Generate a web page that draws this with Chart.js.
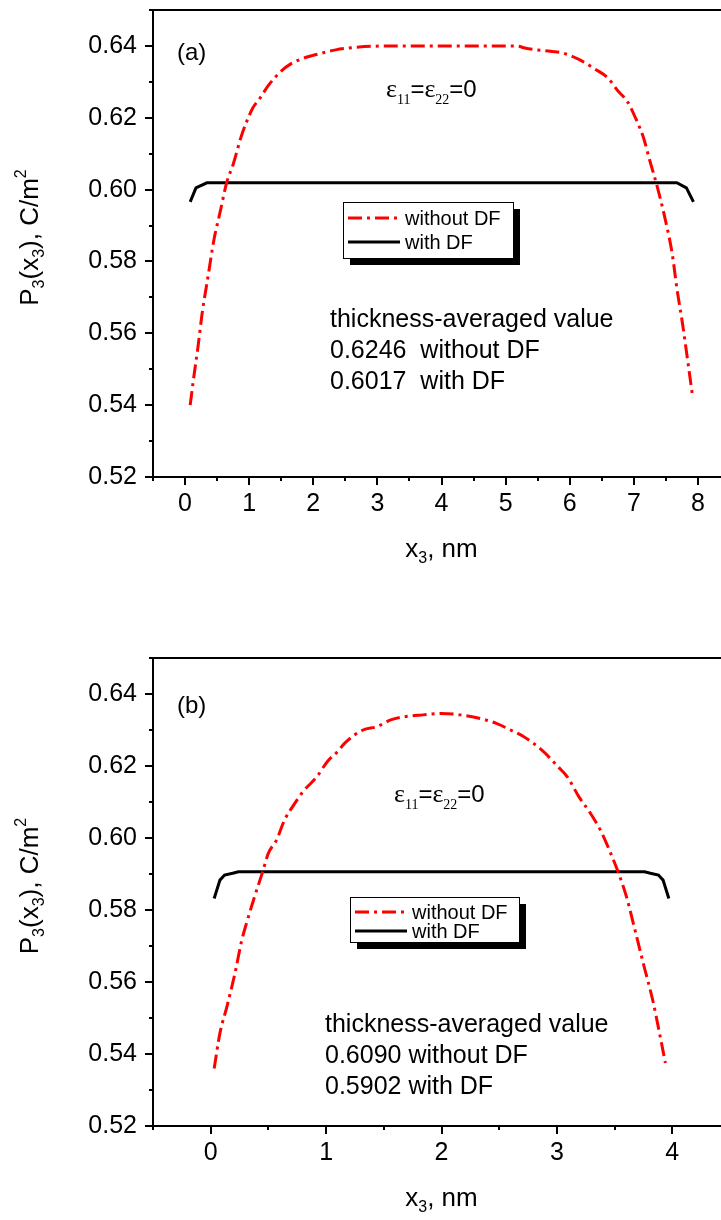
<!DOCTYPE html>
<html>
<head>
<meta charset="utf-8">
<script src="https://cdn.jsdelivr.net/npm/chart.js@4.4.0/dist/chart.umd.min.js"></script>
<style>
  html, body { margin: 0; padding: 0; background: #fff; overflow: hidden; }
  .panel { position: absolute; left: 0; width: 721px; height: 610px; overflow: hidden; }
  .panel canvas { position: absolute; left: 0; top: 0; }
</style>
</head>
<body>
<div class="panel" style="top:0"><canvas id="chartA" width="760" height="610"></canvas></div>
<div class="panel" style="top:610px"><canvas id="chartB" width="760" height="610"></canvas></div>
<script>
// panel (a): 8 nm film
const aRedX = [0.08, 0.13, 0.2, 0.27, 0.36, 0.45, 0.55, 0.65, 0.75, 0.88, 1.05, 1.17, 1.3, 1.5, 1.65, 1.85, 2.05, 2.35, 2.6, 2.9, 3.5, 4.0, 4.5, 5.0, 5.2, 5.3, 5.7, 5.9, 6.15, 6.4, 6.6, 6.75, 6.9, 7.05, 7.15, 7.25, 7.37, 7.49, 7.6, 7.67, 7.76, 7.84, 7.92];
const aRedP = [0.540, 0.547, 0.556, 0.566, 0.576, 0.586, 0.594, 0.602, 0.607, 0.615, 0.6225, 0.6255, 0.629, 0.633, 0.635, 0.6366, 0.6376, 0.6389, 0.6395, 0.6399, 0.6400, 0.6400, 0.6400, 0.6400, 0.6399, 0.6394, 0.6385, 0.638, 0.6362, 0.6335, 0.631, 0.6275, 0.6245, 0.619, 0.6145, 0.608, 0.6005, 0.5917, 0.582, 0.5727, 0.5626, 0.5524, 0.542];
const aBlackX = [0.08, 0.17, 0.34, 7.67, 7.82, 7.93];
const aBlackP = [0.5966, 0.6005, 0.6019, 0.6019, 0.6005, 0.5966];
const aXTicks = [0, 1, 2, 3, 4, 5, 6, 7, 8];

// panel (b): 4 nm film
const bRedX = [0.03, 0.08, 0.14, 0.21, 0.27, 0.31, 0.38, 0.45, 0.50, 0.57, 0.64, 0.72, 0.80, 0.92, 1.01, 1.10, 1.16, 1.32, 1.44, 1.56, 1.68, 1.84, 2.00, 2.16, 2.36, 2.47, 2.63, 2.71, 2.87, 3.01, 3.09, 3.19, 3.29, 3.38, 3.45, 3.53, 3.60, 3.68, 3.75, 3.83, 3.89, 3.94];
const bRedP = [0.536, 0.5458, 0.5531, 0.5624, 0.5717, 0.5763, 0.5837, 0.5906, 0.5958, 0.5994, 0.6050, 0.6092, 0.6129, 0.6170, 0.6212, 0.6240, 0.6263, 0.6300, 0.6309, 0.6328, 0.6337, 0.6342, 0.6346, 0.6342, 0.6330, 0.6319, 0.6295, 0.6282, 0.6244, 0.6198, 0.6170, 0.6115, 0.6069, 0.602, 0.597, 0.5906, 0.584, 0.574, 0.565, 0.555, 0.5457, 0.5375];
const bBlackX = [0.03, 0.08, 0.12, 0.19, 0.24, 3.76, 3.81, 3.88, 3.92, 3.97];
const bBlackP = [0.5832, 0.5883, 0.5897, 0.5902, 0.5906, 0.5906, 0.5902, 0.5897, 0.5883, 0.5832];
const bXTicks = [0, 1, 2, 3, 4];

const yTicks = [0.52, 0.54, 0.56, 0.58, 0.60, 0.62, 0.64];
const seriesNames = ['without DF', 'with DF'];

const SANS = "'Liberation Sans', Arial, sans-serif";
const SERIF = "'Liberation Serif', 'Times New Roman', serif";

function zip(xs, ys) {
    return xs.map((x, i) => ({ x: x, y: ys[i] }));
}

// draw a run of text pieces (for sub/superscripts)
function drawRich(ctx, parts, x, y, align) {
    let w = 0;
    parts.forEach(p => { ctx.font = p.f; w += ctx.measureText(p.t).width; });
    let cx = align === 'center' ? x - w / 2 : x;
    ctx.textAlign = 'left';
    ctx.textBaseline = 'alphabetic';
    parts.forEach(p => {
        ctx.font = p.f;
        ctx.fillText(p.t, cx, y + (p.dy || 0));
        cx += ctx.measureText(p.t).width;
    });
}

const framePlugin = {
    id: 'frame',
    afterDraw(chart) {
        const ctx = chart.ctx;
        const a = chart.chartArea;
        const p = chart.options.plugins.frame;
        const xs = chart.scales.x, ys = chart.scales.y;
        ctx.save();
        ctx.fillStyle = '#000';
        ctx.strokeStyle = '#000';

        // top frame line
        ctx.lineWidth = 2;
        ctx.beginPath();
        ctx.moveTo(a.left, a.top);
        ctx.lineTo(a.right, a.top);
        ctx.stroke();

        // minor ticks
        ctx.lineWidth = 2;
        ctx.beginPath();
        for (let v = xs.min; v <= xs.max + 1e-9; v += 0.5) {
            if (Math.abs(v - Math.round(v)) < 1e-6) continue;
            const px = Math.round(xs.getPixelForValue(v));
            ctx.moveTo(px, a.bottom);
            ctx.lineTo(px, a.bottom + 4);
        }
        for (let k = 1; k <= 13; k += 2) {
            const v = 0.52 + k * 0.01;
            const py = Math.round(ys.getPixelForValue(v));
            ctx.moveTo(a.left, py);
            ctx.lineTo(a.left - 4, py);
        }
        ctx.stroke();

        // axis titles
        ctx.fillStyle = '#000';
        drawRich(ctx, [
            { t: 'x', f: '26px ' + SANS },
            { t: '3', f: '16px ' + SANS, dy: 6 },
            { t: ', nm', f: '26px ' + SANS }
        ], (a.left + a.right) / 2, a.bottom + 80, 'center');

        ctx.save();
        ctx.translate(38, (a.top + a.bottom) / 2 - 6);
        ctx.rotate(-Math.PI / 2);
        drawRich(ctx, [
            { t: 'P', f: '26px ' + SANS },
            { t: '3', f: '16px ' + SANS, dy: 6 },
            { t: '(x', f: '26px ' + SANS },
            { t: '3', f: '16px ' + SANS, dy: 6 },
            { t: '), C/m', f: '26px ' + SANS },
            { t: '2', f: '16px ' + SANS, dy: -12 }
        ], 0, 0, 'center');
        ctx.restore();

        // panel label
        ctx.font = '24px ' + SANS;
        ctx.textAlign = 'left';
        ctx.textBaseline = 'alphabetic';
        ctx.fillText(p.panel, p.panelX, p.panelY);

        // strain label
        drawRich(ctx, [
            { t: 'ε', f: '26px ' + SERIF },
            { t: '11', f: '14px ' + SERIF, dy: 7 },
            { t: '=', f: '24px ' + SANS },
            { t: 'ε', f: '26px ' + SERIF },
            { t: '22', f: '14px ' + SERIF, dy: 7 },
            { t: '=0', f: '24px ' + SANS }
        ], p.epsX, p.epsY, 'left');

        // averaged values
        ctx.font = '25px ' + SANS;
        ctx.textAlign = 'left';
        p.notes.forEach((line, i) => {
            ctx.fillText(line, p.notesX, p.notesY + i * p.notesGap);
        });

        // legend box with drop shadow
        const L = p.legend;
        ctx.fillStyle = '#000';
        ctx.fillRect(L.x + 7, L.y + 7, L.w, L.h);
        ctx.fillStyle = '#fff';
        ctx.fillRect(L.x, L.y, L.w, L.h);
        ctx.lineWidth = 1;
        ctx.strokeRect(L.x + 0.5, L.y + 0.5, L.w, L.h);
        chart.data.datasets.forEach((ds, i) => {
            const ry = L.rows[i];
            ctx.strokeStyle = ds.borderColor;
            ctx.lineWidth = 3;
            ctx.setLineDash(ds.borderDash || []);
            ctx.beginPath();
            ctx.moveTo(L.x + 5, ry);
            ctx.lineTo(L.x + 57, ry);
            ctx.stroke();
            ctx.setLineDash([]);
            ctx.fillStyle = '#000';
            ctx.font = '20px ' + SANS;
            ctx.textBaseline = 'middle';
            ctx.fillText(ds.label, L.x + 62, ry + 1);
        });
        ctx.restore();
    }
};

function buildChart(id, cfg) {
    const tickFont = { family: SANS, size: 25 };
    return new Chart(document.getElementById(id), {
        type: 'line',
        data: {
            datasets: [{
                label: seriesNames[0],
                data: zip(cfg.redX, cfg.redP),
                borderColor: '#ff0000',
                borderWidth: 3,
                borderDash: [14, 5, 3, 5],
                pointRadius: 0,
                cubicInterpolationMode: 'monotone',
                fill: false
            }, {
                label: seriesNames[1],
                data: zip(cfg.blackX, cfg.blackP),
                borderColor: '#000000',
                borderWidth: 3,
                pointRadius: 0,
                tension: 0,
                fill: false
            }]
        },
        options: {
            responsive: false,
            animation: false,
            events: [],
            layout: { padding: { top: cfg.top, left: 0, right: 30, bottom: 0 } },
            plugins: {
                legend: { display: false },
                tooltip: { enabled: false },
                frame: cfg.frame
            },
            scales: {
                x: {
                    type: 'linear',
                    bounds: 'data',
                    min: cfg.xMin,
                    max: cfg.xMax,
                    afterBuildTicks: s => { s.ticks = cfg.xTicks.map(v => ({ value: v })); },
                    afterFit: s => { s.height = cfg.xHeight; s.paddingLeft = 0; s.paddingRight = 0; },
                    grid: { drawOnChartArea: false, drawTicks: true, tickLength: 8, color: '#000', lineWidth: 2 },
                    border: { display: true, color: '#000', width: 2 },
                    ticks: { color: '#000', font: tickFont, padding: 4, maxRotation: 0, autoSkip: false,
                        callback: v => String(v) }
                },
                y: {
                    type: 'linear',
                    bounds: 'data',
                    min: 0.52,
                    max: 0.65,
                    afterBuildTicks: s => { s.ticks = yTicks.map(v => ({ value: v })); },
                    afterFit: s => { s.width = 153; s.paddingTop = 0; s.paddingBottom = 0; },
                    grid: { drawOnChartArea: false, drawTicks: true, tickLength: 8, color: '#000', lineWidth: 2 },
                    border: { display: true, color: '#000', width: 2 },
                    ticks: { color: '#000', font: tickFont, padding: 8, autoSkip: false,
                        callback: v => v.toFixed(2) }
                }
            }
        },
        plugins: [framePlugin]
    });
}

buildChart('chartA', {
    redX: aRedX, redP: aRedP, blackX: aBlackX, blackP: aBlackP,
    xMin: -0.5, xMax: 8.5, xTicks: aXTicks,
    top: 10, xHeight: 133,
    frame: {
        panel: '(a)', panelX: 177, panelY: 60,
        epsX: 386, epsY: 97,
        notes: ['thickness-averaged value', '0.6246  without DF', '0.6017  with DF'],
        notesX: 330, notesY: 327, notesGap: 31,
        legend: { x: 343, y: 202, w: 170, h: 56, rows: [218, 242] }
    }
});

buildChart('chartB', {
    redX: bRedX, redP: bRedP, blackX: bBlackX, blackP: bBlackP,
    xMin: -0.5, xMax: 4.5, xTicks: bXTicks,
    top: 48, xHeight: 94,
    frame: {
        panel: '(b)', panelX: 177, panelY: 103,
        epsX: 394, epsY: 192,
        notes: ['thickness-averaged value', '0.6090 without DF', '0.5902 with DF'],
        notesX: 325, notesY: 422, notesGap: 31,
        legend: { x: 350, y: 287, w: 169, h: 45, rows: [302, 321] }
    }
});
</script>
</body>
</html>
